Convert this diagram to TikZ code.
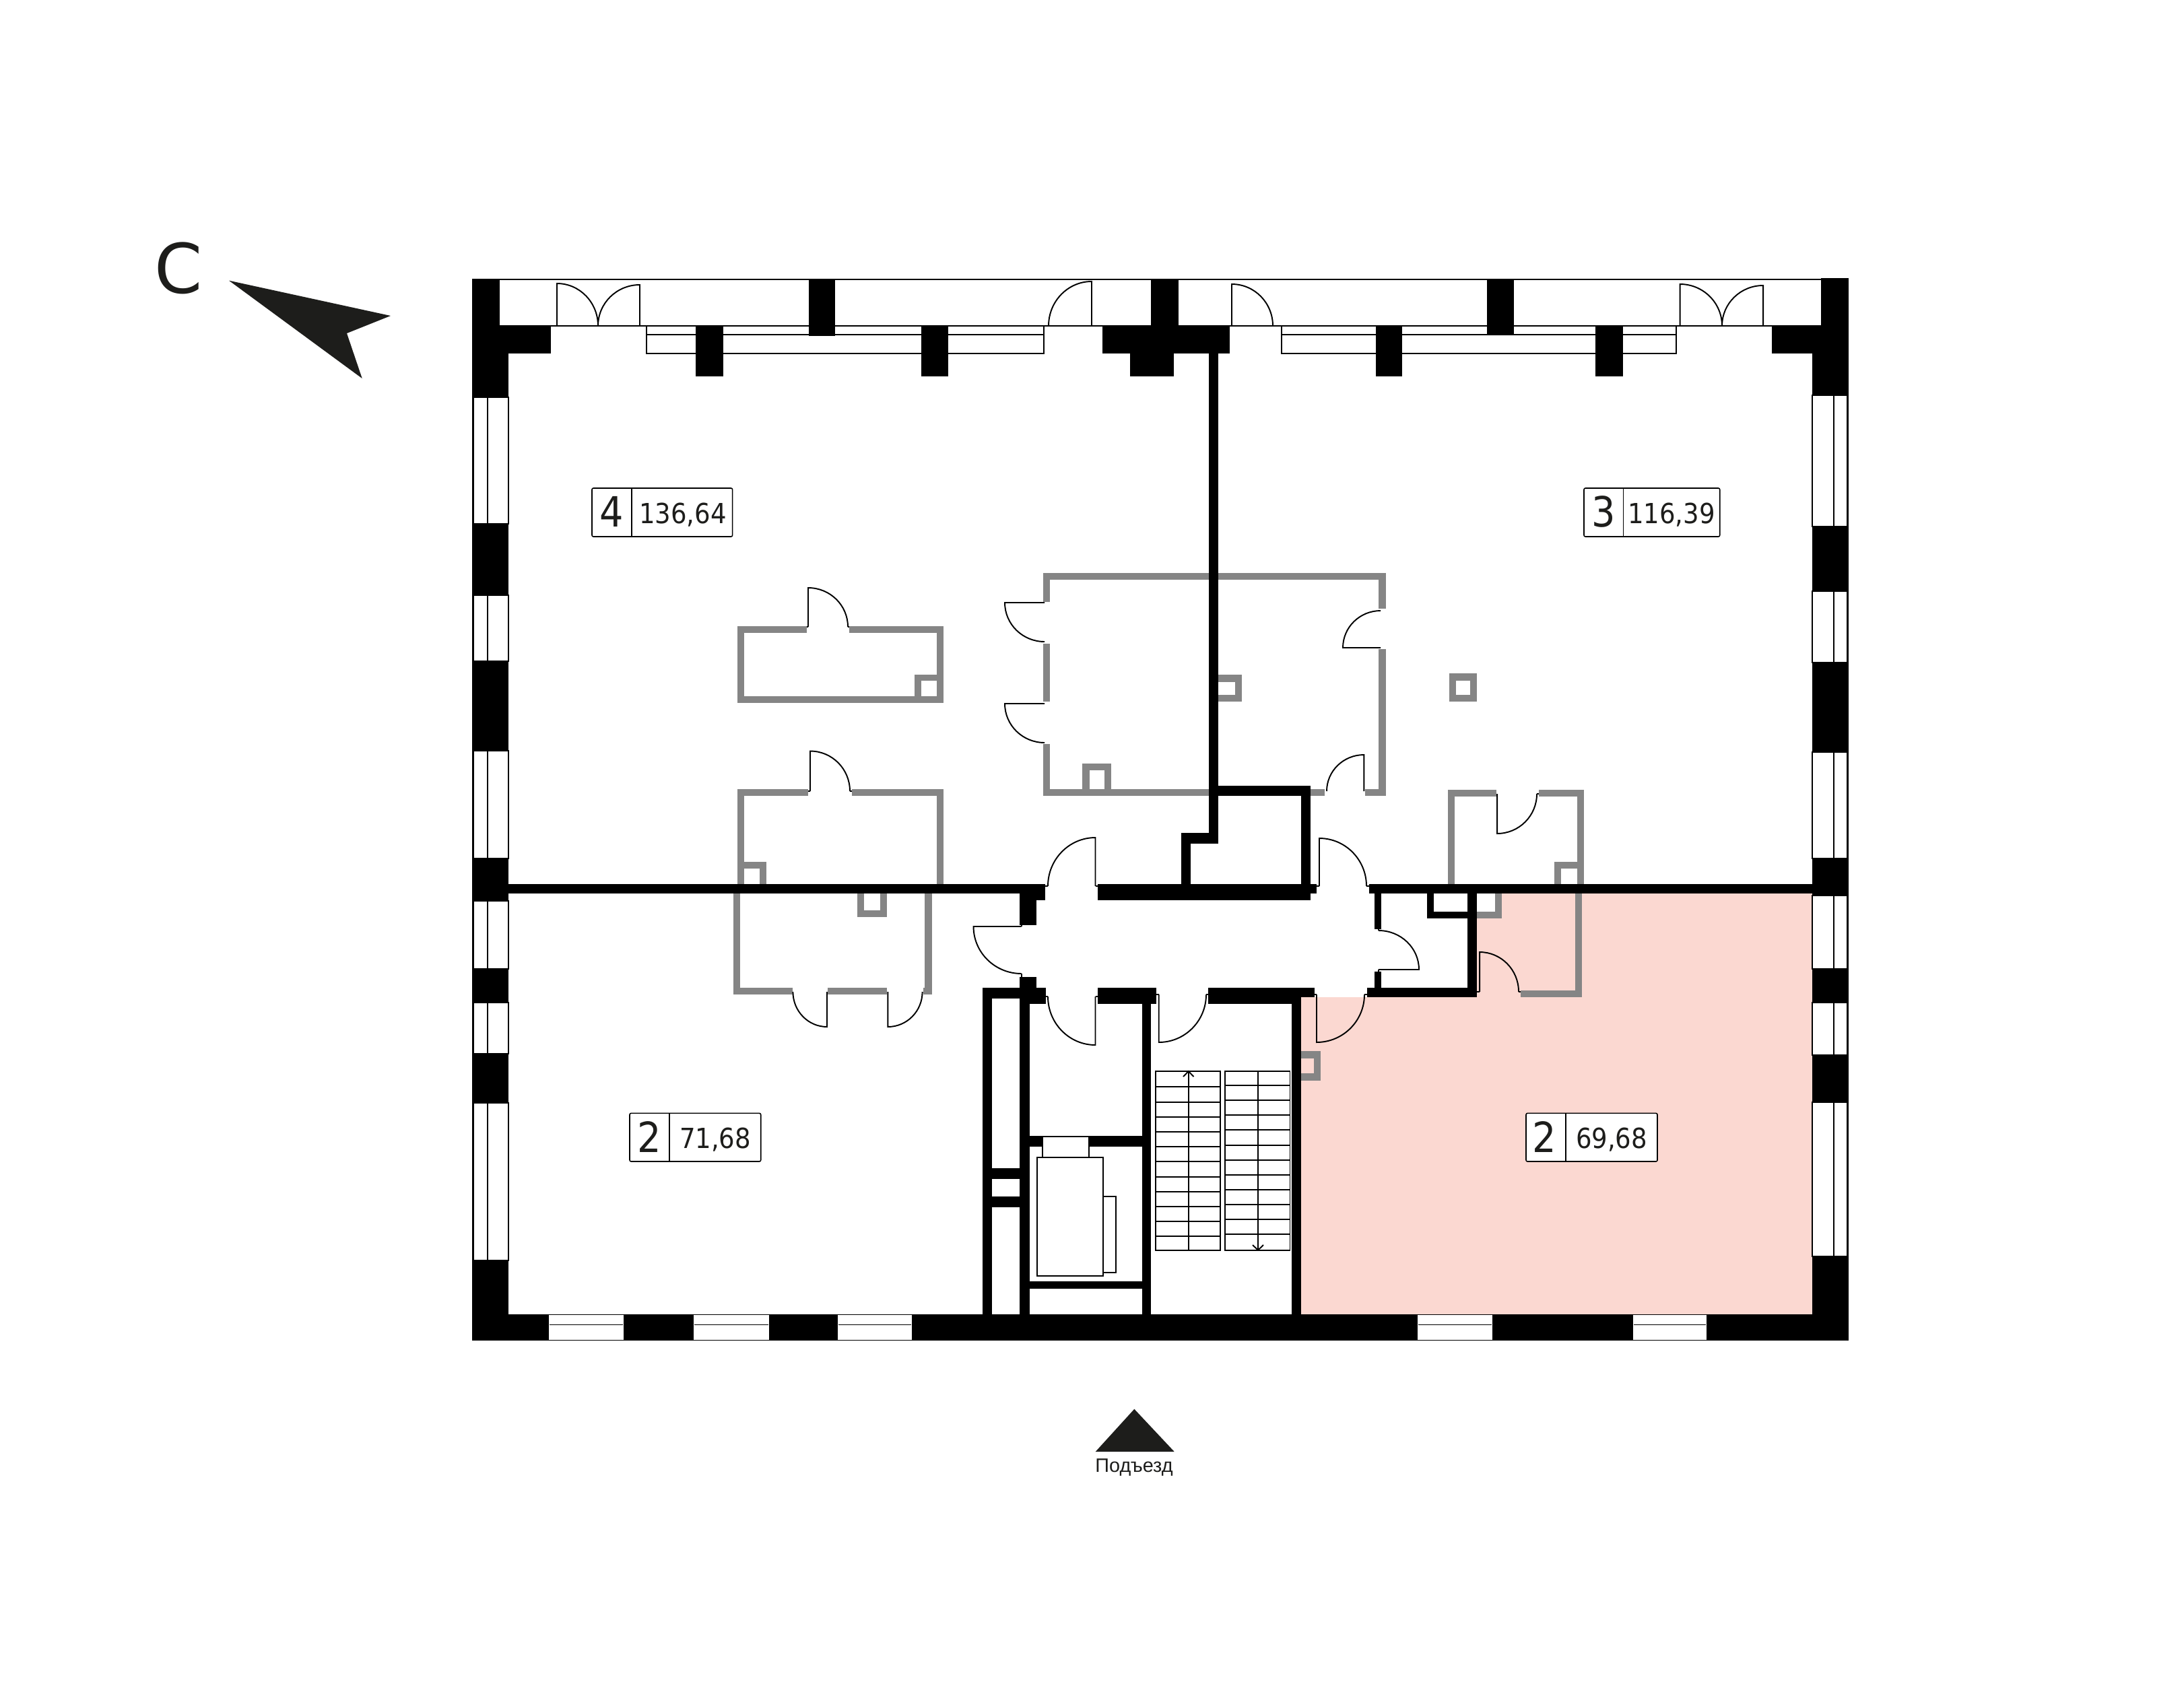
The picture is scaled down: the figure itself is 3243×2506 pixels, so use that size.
\documentclass[tikz,border=0pt]{standalone}
\usepackage{fontspec}
\setmainfont{DejaVu Sans}
\newfontfamily\condfont{DejaVu Sans Condensed}
\newfontfamily\entryfont{Liberation Sans}
\definecolor{wallgray}{HTML}{858585}
\definecolor{roompink}{HTML}{FBD8D1}
\definecolor{inkdark}{HTML}{1D1D1B}
\newcommand{\BK}[4]{\fill[black] (#1,#2) rectangle (#3,#4);}
\newcommand{\GR}[4]{\fill[wallgray] (#1,#2) rectangle (#3,#4);}
\newcommand{\WH}[4]{\fill[white] (#1,#2) rectangle (#3,#4);}
\newcommand{\WIN}[4]{\draw[plan line,fill=white] (#1,#2) rectangle (#3,#4);}
% door: hinge x,y; leaf end x,y; arc end x,y
\newcommand{\door}[6]{%
  \pgfmathsetmacro\dca{#3+.5523*(#5-#1)}%
  \pgfmathsetmacro\dcb{#4+.5523*(#6-#2)}%
  \pgfmathsetmacro\dcc{#5+.5523*(#3-#1)}%
  \pgfmathsetmacro\dcd{#6+.5523*(#4-#2)}%
  \draw[plan line] (#1,#2) -- (#3,#4) .. controls (\dca,\dcb) and (\dcc,\dcd) .. (#5,#6);}
\tikzset{
  plan line/.style={draw=black,line width=0.55pt},
  area box/.style={draw=black,fill=white,line width=0.45pt,rounded corners=0.6pt},
  room num/.style={anchor=base,inner sep=0pt,text=inkdark,font=\condfont\fontsize{17.6}{18}\selectfont},
  room area/.style={anchor=base,inner sep=0pt,text=inkdark,font=\condfont\fontsize{11.7}{12}\selectfont}
}
\begin{document}
\begin{tikzpicture}[x=0.01cm,y=-0.01cm]
\useasboundingbox (0,0) rectangle (3243,2506);
\fill[white] (0,0) rectangle (3243,2506);
% highlighted room
\fill[roompink] (1932,1481) -- (2030,1481) -- (2193,1481) -- (2193,1327) -- (2691,1327) -- (2691,1952) -- (1932,1952) -- cycle;
\WH{2193}{1327}{2220}{1354}
% ---- grey partitions
\GR{1094.6}{929.5}{1197.7}{940}\GR{1261}{929.5}{1401}{940}
\GR{1094.6}{929.5}{1105}{1044.4}\GR{1391}{929.5}{1401}{1044.4}\GR{1094.6}{1034}{1401}{1044.4}
\GR{1358}{1001.6}{1368}{1044.4}\GR{1358}{1001.6}{1401}{1011}
\GR{1094.6}{1172}{1200}{1182}\GR{1265}{1172}{1401}{1182}
\GR{1094.6}{1172}{1105}{1313}\GR{1391}{1172}{1401}{1313}
\GR{1104.4}{1280}{1138}{1289.5}\GR{1127.6}{1280}{1138}{1313}
\GR{1089}{1326}{1099}{1477}\GR{1373}{1326}{1383.6}{1477}
\GR{1089}{1467}{1176.7}{1477}\GR{1229}{1467}{1317}{1477}\GR{1371}{1467}{1383.6}{1477}
\GR{1273}{1326}{1283}{1362.4}\GR{1306.5}{1326}{1317}{1362.4}\GR{1273}{1352}{1317}{1362.4}
% big central room
\GR{1548.5}{851}{2057.6}{861}
\GR{1548.5}{851}{1559}{894}\GR{1548.5}{955.6}{1559}{1042}\GR{1548.5}{1104.6}{1559}{1182}
\GR{1548.5}{1172}{1800}{1182}
\GR{1607}{1134}{1618}{1172}\GR{1640}{1134}{1650}{1172}\GR{1607}{1134}{1650}{1144}
\GR{2047}{851}{2057.6}{904}\GR{2047}{963.7}{2057.6}{1182}
\GR{1946}{1172}{1967}{1182}\GR{2027}{1172}{2057.6}{1182}
\GR{1808}{1001.6}{1844}{1012.5}\GR{1808}{1031.5}{1844}{1042}\GR{1834}{1001.6}{1844}{1042}
% free pillar
\GR{2151.6}{1000}{2161.5}{1042}\GR{2182.5}{1000}{2193}{1042}\GR{2151.6}{1000}{2193}{1011}\GR{2151.6}{1032}{2193}{1042}
% right small room
\GR{2150}{1173}{2222}{1183}\GR{2285}{1173}{2352}{1183}
\GR{2150}{1173}{2160}{1313}\GR{2342}{1173}{2352}{1313}
\GR{2308}{1280}{2352}{1290}\GR{2308}{1280}{2318}{1313}
% below the divider, right
\GR{2258}{1471}{2349}{1481}\GR{2339}{1327}{2349}{1481}
\GR{2220}{1327}{2230}{1364}\GR{2193}{1354}{2230}{1364}
% niche beside the pink room
\GR{1932}{1561}{1961.4}{1571.7}\GR{1932}{1594}{1961.4}{1605}\GR{1951}{1561}{1961.4}{1605}
% ---- balcony frame
\draw[plan line] (701,415) -- (2745,415);
\draw[plan line] (742,484) -- (2704,484);
% window boxes on top
\WIN{960}{484}{1550}{525}\draw[plan line] (960,497) -- (1550,497);
\WIN{1903}{484}{2489}{525}\draw[plan line] (1903,497) -- (2489,497);
% ---- black outer walls
\BK{701}{415}{742}{525}\BK{701}{484}{817.5}{525}\BK{701}{525}{755}{1991}
\BK{701}{1952}{2745}{1991}
\BK{2704}{413}{2745}{525}\BK{2631}{484}{2745}{525}\BK{2691}{525}{2745}{1991}
\BK{1201}{415}{1240}{498.6}\BK{1033}{484}{1074}{559}\BK{1367.5}{484}{1408}{559}
\BK{1709}{415}{1750}{484}\BK{1637}{484}{1826}{525}\BK{1678}{484}{1743}{559}
\BK{2208}{415}{2248}{497.6}\BK{2043}{483}{2082}{559}\BK{2369}{484}{2410}{559}
% left windows
\foreach \ya/\yb in {590/778,884/982,1115/1275,1338/1439,1489/1565,1638/1872}{
  \draw[plan line,fill=white] (703,\ya) rectangle (755,\yb);
  \draw[plan line] (724,\ya) -- (724,\yb);}
% right windows
\foreach \ya/\yb in {587/782,878/984,1117/1275,1330/1439,1489/1567,1637/1866}{
  \draw[plan line,fill=white] (2691,\ya) rectangle (2743,\yb);
  \draw[plan line] (2723,\ya) -- (2723,\yb);}
% bottom windows
\foreach \xa/\xb in {816/925,1031/1141,1245/1353,2106/2215,2426/2533}{
  \draw[draw=white,fill=white] (\xa,1954) rectangle (\xb,1989);
  \draw[plan line] (\xa,1967.5) -- (\xb,1967.5);}
% ---- black inner walls
\BK{755}{1313}{1551.5}{1327}
\BK{1515}{1313}{1551.5}{1337}\BK{1514}{1313}{1538.5}{1374}
\BK{1514}{1451}{1538.5}{1483}
\BK{1458.5}{1467}{1553}{1483}\BK{1528.6}{1467}{1553}{1491}
\BK{1458.5}{1467}{1473}{1952}\BK{1514.4}{1467}{1528.6}{1952}
\BK{1473}{1735}{1514}{1751}\BK{1473}{1777}{1514}{1793}
\BK{1629.6}{1467}{1716.5}{1491}\BK{1695.5}{1467}{1709}{1952}
\BK{1794}{1467}{1952}{1481}\BK{1794}{1467}{1932}{1491}\BK{1918}{1467}{1932}{1952}
\BK{1528.6}{1687}{1695.5}{1703}\BK{1528.6}{1903}{1695.5}{1914}
% divider
\BK{1795}{525}{1808.5}{1252}\BK{1754}{1237}{1808.5}{1253}\BK{1754}{1237}{1768}{1320}
\BK{1795}{1167}{1946}{1182}\BK{1932}{1167}{1946}{1320}
\BK{1629.6}{1313}{1946}{1337}\BK{1946}{1313}{1955}{1327}
\BK{2032.7}{1313}{2691}{1327}
\BK{2041}{1327}{2051}{1380}\BK{2041}{1443}{2051}{1467}
\BK{2030}{1467}{2193}{1481}\BK{2179}{1327}{2193}{1481}
\BK{2119}{1327}{2129}{1364}\BK{2119}{1354}{2193}{1364}
% lift
\WH{1548}{1687}{1617}{1703}
\draw[plan line,fill=white] (1548,1688) rectangle (1617,1719);
\draw[plan line,fill=white] (1637.7,1777) rectangle (1656.8,1890);
\draw[plan line,fill=white] (1540.4,1719) rectangle (1637.7,1894.7);
% stairs
\draw[plan line] (1715.7,1591) rectangle (1812,1856.7);
\draw[plan line] (1819.4,1591) rectangle (1915.5,1856.7);
\foreach \yy in {1614,1636.7,1659,1681,1703.3,1725.3,1747.7,1770,1791.7,1814,1836}
  \draw[plan line] (1715.7,\yy) -- (1812,\yy);
\foreach \yy in {1611.7,1633.7,1656,1678.3,1700.7,1722.7,1744.7,1767,1789.3,1811.3,1833.3}
  \draw[plan line] (1819.4,\yy) -- (1915.5,\yy);
\draw[plan line] (1764.7,1591) -- (1764.7,1856.7);
\draw[plan line] (1757,1599) -- (1764.7,1591) -- (1772.5,1599);
\draw[plan line] (1868,1591) -- (1868,1856.7);
\draw[plan line] (1860,1849) -- (1868,1856.7) -- (1876,1849);
% doors on the balconies
\door{827}{484}{827}{421}{888}{484}
\door{950}{484}{950}{423}{888}{484}
\door{1621}{484}{1621}{418}{1557}{484}
\door{1829}{484}{1829}{422}{1890}{484}
\door{2494.5}{484}{2494.5}{422}{2557}{484}
\door{2618}{484}{2618}{424}{2557}{484}
% doors of the grey partitions
\door{1200}{931}{1200}{873}{1259}{931}
\door{1203}{1175}{1203}{1115.5}{1262}{1175}
\door{1551}{895}{1492}{895}{1551}{953}
\door{1551}{1045}{1492}{1045}{1551}{1103}
\door{2050}{962}{1994}{962}{2050}{907}
\door{2025.4}{1175}{2025.4}{1121}{1970}{1175}
\door{2223}{1179}{2223}{1238}{2282}{1179}
\door{1228}{1473}{1228}{1525}{1177.4}{1473}
\door{1318.4}{1473}{1318.4}{1525}{1369.6}{1473}
% doors of the black walls
\door{1626.5}{1316}{1626.5}{1244}{1556}{1316}
\door{1959}{1316}{1959}{1245}{2029}{1316}
\door{1516.7}{1376}{1445.5}{1376}{1516.7}{1446}
\door{1626.5}{1480}{1626.5}{1552}{1556}{1480}
\door{1720.7}{1477}{1720.7}{1548}{1791}{1477}
\door{1955}{1477}{1955}{1548}{2026}{1477}
\door{2047}{1440}{2107}{1440}{2047}{1382}
\door{2197}{1473}{2197}{1414}{2255}{1473}
% door stubs
\draw[plan line]
  (1551.5,1316) -- (1556,1316) (1626.5,1316) -- (1630,1316)
  (1955,1316) -- (1959,1316) (2029,1316) -- (2033,1316)
  (1553,1480) -- (1556,1480) (1626.5,1480) -- (1630,1480)
  (1716.5,1477) -- (1720.7,1477) (1791,1477) -- (1794,1477)
  (1952,1477) -- (1955,1477) (2026,1477) -- (2030,1477)
  (2193,1473) -- (2197,1473) (2255,1473) -- (2258,1473)
  (2282,1179) -- (2285,1179) (1197.7,931) -- (1200,931) (1259,931) -- (1261,931)
  (1200,1175) -- (1203,1175) (1262,1175) -- (1265,1175)
  (1516.7,1374) -- (1516.7,1376) (1516.7,1446) -- (1516.7,1451)
  (2047,1380) -- (2047,1382) (2047,1440) -- (2047,1443)
  (1548.5,895) -- (1551,895);
% area labels
\draw[area box] (879,725) rectangle (1087.6,797);\draw[plan line,line width=0.4pt] (938,725) -- (938,797);
\node[room num] (n4) at (908,782) {4};
\node[room area] (a4) at (1014,777) {136,64};
\draw[area box] (2352,725) rectangle (2553.7,797);\draw[plan line,line width=0.4pt] (2410.5,725) -- (2410.5,797);
\node[room num] (n3) at (2381,782) {3};
\node[room area] (a3) at (2482,777) {116,39};
\draw[area box] (935,1653.4) rectangle (1129.7,1725);\draw[plan line,line width=0.4pt] (994,1653.4) -- (994,1725);
\node[room num] (n2a) at (964,1711) {2};
\node[room area] (a2a) at (1062,1705.7) {71,68};
\draw[area box] (2266,1653.4) rectangle (2461,1725);\draw[plan line,line width=0.4pt] (2325,1653.4) -- (2325,1725);
\node[room num] (n2b) at (2293.5,1711) {2};
\node[room area] (a2b) at (2393,1705.7) {69,68};
% compass
\fill[inkdark] (340,416.7) -- (580,469) -- (515,495) -- (537.7,562) -- cycle;
\node[anchor=base,inner sep=0pt,text=inkdark,font=\fontsize{29}{30}\selectfont] (north) at (265,435) {С};
% entrance
\fill[inkdark] (1684.3,2092.7) -- (1743.7,2156) -- (1626.7,2156) -- cycle;
\node[anchor=base,inner sep=0pt,text=inkdark,font=\entryfont\fontsize{8.2}{9}\selectfont] (entry) at (1684,2186.7) {Подъезд};
\end{tikzpicture}
\end{document}
